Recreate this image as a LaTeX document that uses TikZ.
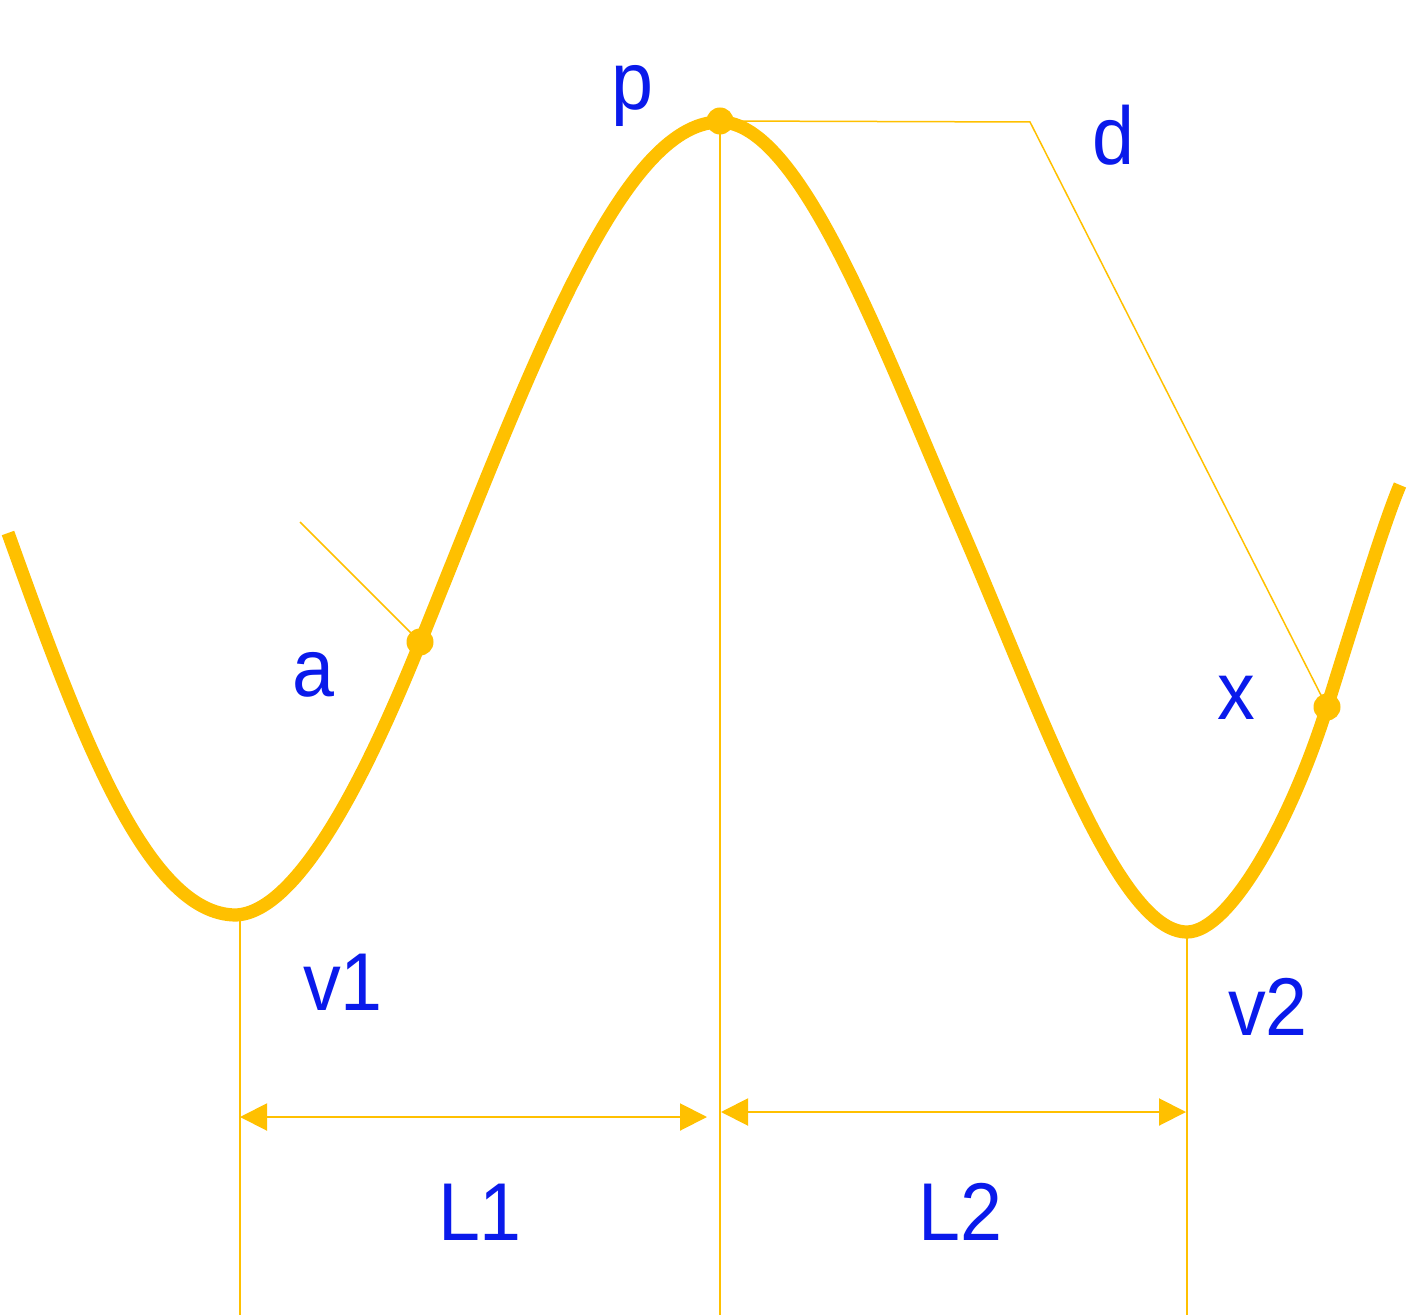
\documentclass[tikz,border=0pt]{standalone}
\usepackage{fontspec}
\setmainfont{Liberation Sans}
\usetikzlibrary{arrows.meta}
\definecolor{curvey}{RGB}{255,192,0}
\definecolor{labelb}{RGB}{10,26,235}
\tikzset{
  wave/.style={draw=curvey, line width=6.6pt, line join=round},
  thin/.style={draw=curvey, line width=1pt},
  leader/.style={draw=curvey, line width=0.75pt},
  dimline/.style={draw=curvey, line width=1pt, {Triangle[length=13.5pt,width=13.5pt]}-{Triangle[length=13.5pt,width=13.5pt]}},
  dotnode/.style={circle, fill=curvey, minimum size=13.5pt, inner sep=0pt},
  lbl/.style={text=labelb, font=\fontsize{41}{48}\selectfont, inner sep=0pt, anchor=base, xscale=0.92}
}
\begin{document}
\begin{tikzpicture}[x=0.5pt,y=-0.5pt]
\useasboundingbox (0,0) rectangle (1408,1315);
% main curve
\draw[wave] (8,533) .. controls (78,728) and (146,915) .. (236,915)
  .. controls (300,912) and (370,767) .. (420,643)
  .. controls (530,371) and (620,122) .. (720,122)
  .. controls (800,122) and (880,341) .. (960,525)
  .. controls (1040,709) and (1117,932) .. (1187,932)
  .. controls (1230,932) and (1292,819) .. (1327,707)
  .. controls (1357,611) and (1385,520) .. (1400,485);
% points
\node[dotnode] (A) at (420,642) {};
\node[dotnode] (P) at (720,121) {};
\node[dotnode] (X) at (1327,707) {};
\coordinate (V1) at (240,917);
\coordinate (V2) at (1187,934);
\coordinate (V1b) at (240,1315);
\coordinate (Pb) at (720,1315);
\coordinate (V2b) at (1187,1315);
\coordinate (Aend) at (300,522);
\coordinate (Dk) at (1030,122);
% leaders
\draw[leader] (Aend) -- (A.center);
\draw[leader] (P.center) -- (Dk) -- (X.center);
% verticals
\draw[thin] (V1) -- (V1b);
\draw[thin] (P.center) -- (Pb);
\draw[thin] (V2) -- (V2b);
% dimensions
\coordinate (L1a) at (240,1117);
\coordinate (L1b) at (707,1117);
\coordinate (L2a) at (721,1112);
\coordinate (L2b) at (1186,1112);
\draw[dimline] (L1a) -- (L1b);
\draw[dimline] (L2a) -- (L2b);
% labels
\node[lbl] (tp) at (632,110) {p};
\node[lbl] (td) at (1113,165) {d};
\node[lbl] (ta) at (313,697) {a};
\node[lbl] (tx) at (1236,719) {x};
\node[lbl] (tv1) at (343,1010) {v1};
\node[lbl] (tv2) at (1268,1035) {v2};
\node[lbl] (tL1) at (480,1240) {L1};
\node[lbl] (tL2) at (960,1240) {L2};
\end{tikzpicture}
\end{document}
